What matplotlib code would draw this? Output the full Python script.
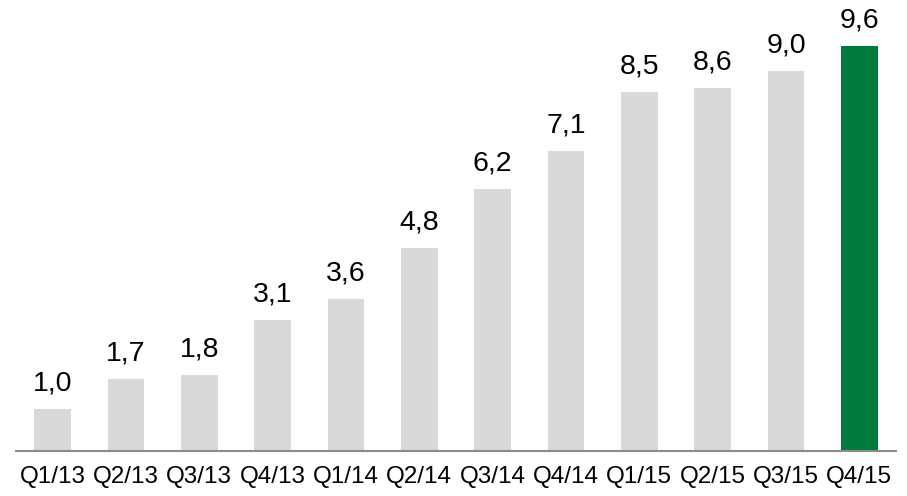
import matplotlib
matplotlib.use("Agg")
import matplotlib.pyplot as plt

categories = ["Q1/13", "Q2/13", "Q3/13", "Q4/13", "Q1/14", "Q2/14", "Q3/14",
              "Q4/14", "Q1/15", "Q2/15", "Q3/15", "Q4/15"]
values = [1.0, 1.7, 1.8, 3.1, 3.6, 4.8, 6.2, 7.1, 8.5, 8.6, 9.0, 9.6]
labels = ["1,0", "1,7", "1,8", "3,1", "3,6", "4,8", "6,2", "7,1", "8,5", "8,6", "9,0", "9,6"]

plt.rcParams['font.family'] = ['Liberation Sans', 'DejaVu Sans']

fig = plt.figure(figsize=(9.07, 4.96), dpi=100)
ax = fig.add_axes([16/907, 45/496, 880/907, 443/496])

colors = ["#d9d9d9"] * (len(values) - 1) + ["#007a3d"]
x = list(range(len(values)))
bars = ax.bar(x, values, width=0.5, color=colors, zorder=2)

for xi, v, lab in zip(x, values, labels):
    ax.annotate(lab, (xi, v), xytext=(0, 9), textcoords="offset points",
                ha="center", va="bottom", fontsize=20.5, color="#000000")

ax.set_xlim(-0.5, 11.5)
ax.set_ylim(0, 10.5)
ax.set_xticks(x)
ax.set_xticklabels(categories, fontsize=17.5)
ax.tick_params(axis="x", length=0, pad=11)
ax.set_yticks([])
for s in ["top", "right", "left"]:
    ax.spines[s].set_visible(False)
ax.spines["bottom"].set_color("#8c8c8c")
ax.spines["bottom"].set_linewidth(1.5)

fig.savefig("out.png", dpi=100)
